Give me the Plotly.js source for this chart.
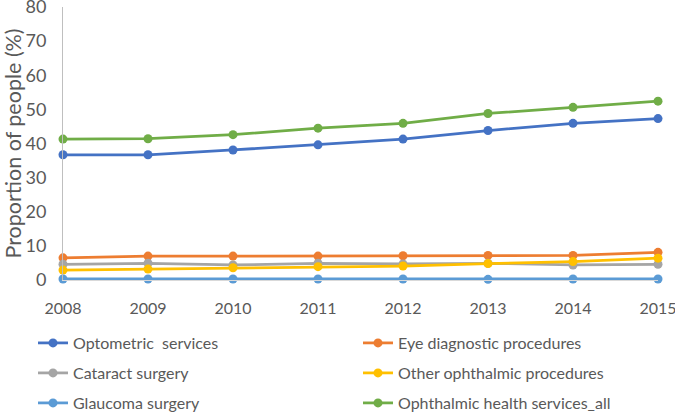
<!DOCTYPE html>
<html>
<head>
<meta charset="utf-8">
<script src="https://cdn.plot.ly/plotly-3.0.1.min.js"></script>
<style>html,body{margin:0;padding:0;background:#fff;}#chart{width:675px;height:414px;}</style>
</head>
<body>
<div id="chart"></div>
<script>
var years = [2008, 2009, 2010, 2011, 2012, 2013, 2014, 2015];
var optometric = [36.7, 36.7, 38.1, 39.6, 41.3, 43.8, 45.9, 47.3];
var eyeDiagnostic = [6.5, 7.0, 7.0, 7.0, 7.1, 7.2, 7.2, 8.1];
var cataract = [4.6, 4.9, 4.4, 4.9, 4.7, 4.9, 4.4, 4.6];
var otherOphthalmic = [2.9, 3.2, 3.6, 3.9, 4.1, 4.8, 5.4, 6.4];
var glaucoma = [0.3, 0.3, 0.3, 0.3, 0.3, 0.2, 0.3, 0.3];
var ophthalmicAll = [41.3, 41.4, 42.6, 44.5, 45.9, 48.8, 50.6, 52.4];
var yTicks = [0, 10, 20, 30, 40, 50, 60, 70, 80];

var FONT = 'Lato, "Open Sans", sans-serif';
var TXT = '#595959';

function tr(name, y, color, legend) {
  return {
    x: years, y: y, name: name, type: 'scatter', mode: 'lines+markers',
    line: {color: color, width: 2.75},
    marker: {color: color, size: 9},
    cliponaxis: false,
    legend: legend
  };
}

var data = [
  tr('Optometric  services', optometric, '#4472C4', 'legend'),
  tr('Eye diagnostic procedures', eyeDiagnostic, '#ED7D31', 'legend2'),
  tr('Cataract surgery', cataract, '#A5A5A5', 'legend3'),
  tr('Other ophthalmic procedures', otherOphthalmic, '#FFC000', 'legend4'),
  tr('Glaucoma surgery', glaucoma, '#5B9BD5', 'legend5'),
  tr('Ophthalmic health services_all', ophthalmicAll, '#70AD47', 'legend6')
];

function leg(xpx, ypx) {
  return {
    orientation: 'h', xref: 'container', yref: 'container',
    x: xpx / 675, y: (414 - ypx) / 414, xanchor: 'left', yanchor: 'middle',
    font: {family: FONT, size: 16, color: TXT},
    itemwidth: 30, bgcolor: 'rgba(0,0,0,0)', borderwidth: 0
  };
}

var layout = {
  width: 675, height: 414,
  margin: {l: 63, r: 17, t: 7, b: 134},
  paper_bgcolor: '#ffffff', plot_bgcolor: '#ffffff',
  font: {family: FONT, color: TXT},
  showlegend: true,
  xaxis: {
    type: 'linear', range: [2008, 2015], tickvals: years,
    ticktext: years.map(String),
    showgrid: false, zeroline: false, showline: true, linecolor: '#D9D9D9', linewidth: 1,
    ticks: '', ticklabelstandoff: 14, ticklabeloverflow: 'allow',
    tickfont: {family: FONT, size: 16, color: TXT}
  },
  yaxis: {
    range: [0, 80], tickvals: yTicks, ticktext: yTicks.map(String),
    showgrid: false, zeroline: false, showline: true, linecolor: '#BFBFBF', linewidth: 1,
    ticks: '', ticklabelstandoff: 12, ticklabeloverflow: 'allow',
    tickfont: {family: FONT, size: 18, color: TXT},
    title: {text: 'Proportion of people (%)', font: {family: FONT, size: 21.5, color: TXT}, standoff: 0}
  },
  legend: leg(33, 343),
  legend2: leg(358, 343),
  legend3: leg(33, 373),
  legend4: leg(358, 373),
  legend5: leg(33, 403),
  legend6: leg(358, 403)
};

Plotly.newPlot('chart', data, layout, {displayModeBar: false, staticPlot: true});
</script>
</body>
</html>
